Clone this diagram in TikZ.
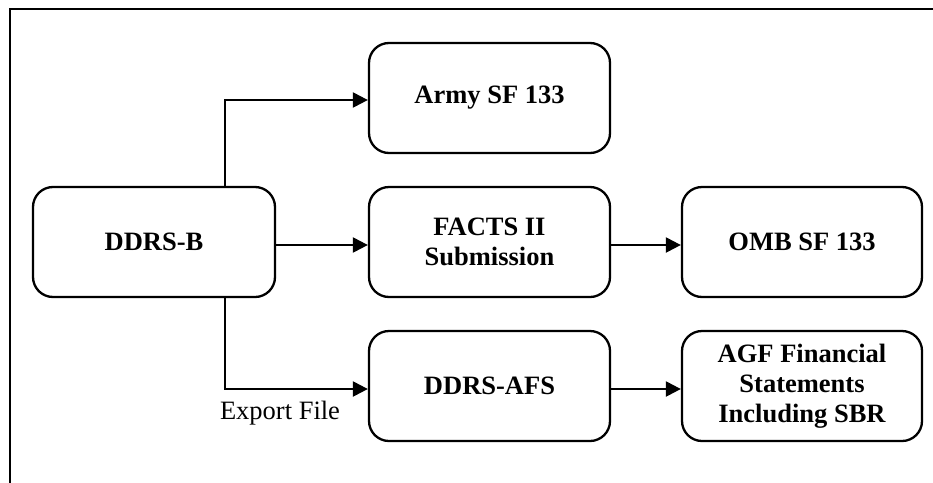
\documentclass[tikz,border=0pt]{standalone}
\usepackage{fontspec}
\setmainfont{Liberation Serif}
\usetikzlibrary{arrows.meta}
\begin{document}
\begin{tikzpicture}[x=1pt,y=-1pt,
  box/.style={draw,line width=2.3pt,rounded corners=20pt,align=center,
    font=\fontsize{26.5}{30}\selectfont\bfseries,inner sep=0pt},
  arr/.style={line width=2.3pt,-{Triangle[length=15pt,width=15pt]}}]
\useasboundingbox (0,0) rectangle (933,482);
\draw[line width=2pt] (10,484) -- (10,9) -- (935,9);
\node[box,minimum width=242pt,minimum height=110pt] (ddrsb) at (154,242) {DDRS-B};
\node[box,minimum width=241pt,minimum height=110pt] (army) at (489.5,98) {Army SF 133};
\node[box,minimum width=241pt,minimum height=110pt] (facts) at (489.5,242) {FACTS II\\Submission};
\node[box,minimum width=240pt,minimum height=110pt] (omb) at (802,242) {OMB SF 133};
\node[box,minimum width=241pt,minimum height=110pt] (afs) at (489.5,386) {DDRS-AFS};
\node[box,minimum width=240pt,minimum height=110pt] (agf) at (802,386) {AGF Financial\\Statements\\Including SBR};
\node[anchor=base,inner sep=0pt,font=\fontsize{26.5}{30}\selectfont] (exp) at (280,419) {Export File};
\draw[arr] ([xshift=71pt]ddrsb.north) |- ([yshift=-2pt]army.west);
\draw[arr] ([yshift=-3pt]ddrsb.east) -- ([yshift=-3pt]facts.west);
\draw[arr] ([xshift=71pt]ddrsb.south) |- ([yshift=-3pt]afs.west);
\draw[arr] ([yshift=-3pt]facts.east) -- ([yshift=-3pt]omb.west);
\draw[arr] ([yshift=-3pt]afs.east) -- ([yshift=-3pt]agf.west);
\end{tikzpicture}
\end{document}
